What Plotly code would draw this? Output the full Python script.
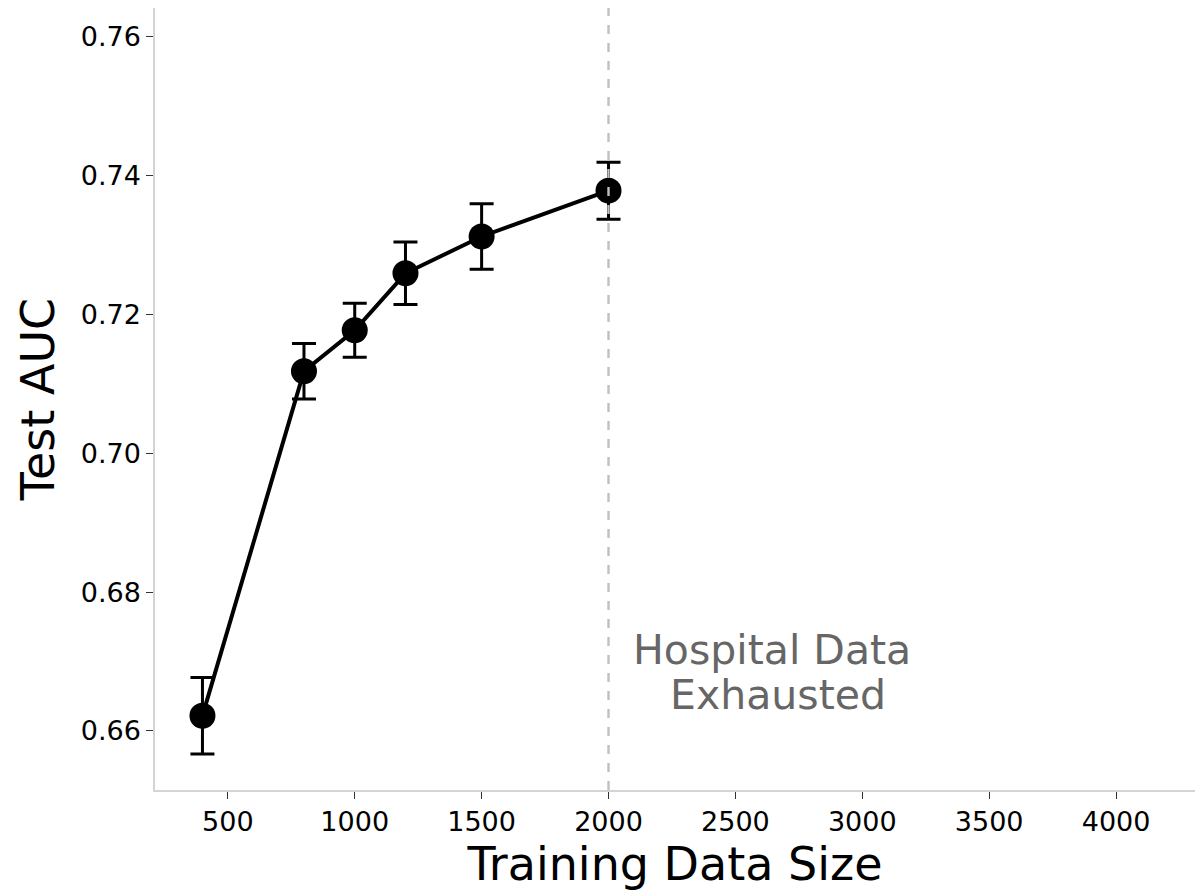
import plotly.graph_objects as go

# Learning curve: test AUC vs. amount of training data
train_sizes = [400, 800, 1000, 1200, 1500, 2000]
test_auc = [0.6622, 0.7118, 0.7177, 0.7259, 0.7312, 0.7378]
auc_err = [0.0055, 0.0040, 0.0039, 0.0045, 0.0047, 0.0041]

x_ticks = [500, 1000, 1500, 2000, 2500, 3000, 3500, 4000]
y_ticks = [0.66, 0.68, 0.70, 0.72, 0.74, 0.76]
exhausted_at = 2000

fig = go.Figure()

fig.add_trace(go.Scatter(
    x=train_sizes, y=test_auc,
    mode="lines+markers",
    line=dict(color="black", width=4),
    marker=dict(color="black", size=26),
    error_y=dict(type="data", array=auc_err, visible=True,
                 color="black", thickness=3, width=12),
    showlegend=False,
))

# Point where the hospital data runs out
fig.add_shape(type="line", xref="x", yref="paper",
              x0=exhausted_at, x1=exhausted_at, y0=0, y1=1,
              line=dict(color="#c0c0c0", width=2.4, dash="dash"))

note_font = dict(size=41, color="#666666", family="DejaVu Sans")
fig.add_annotation(x=2646, y=0.6717, xref="x", yref="y",
                   text="Hospital Data", showarrow=False, font=note_font)
fig.add_annotation(x=2669, y=0.6652, xref="x", yref="y",
                   text="Exhausted", showarrow=False, font=note_font)

axis_font = dict(family="DejaVu Sans", size=27, color="black")

fig.update_layout(
    width=1195, height=893,
    margin=dict(l=155, r=0, t=8, b=103),
    plot_bgcolor="white", paper_bgcolor="white",
    font=dict(family="DejaVu Sans", color="black"),
    xaxis=dict(
        range=[213, 4311], tickvals=x_ticks,
        ticktext=[str(v) for v in x_ticks],
        showgrid=False, zeroline=False,
        showline=True, linecolor="#d4d4d4", linewidth=1.5,
        ticks="outside", ticklen=7, tickwidth=1.3, tickcolor="#333333",
        tickfont=axis_font,
        title=dict(text="Training Data Size",
                   font=dict(family="DejaVu Sans", size=46, color="black"),
                   standoff=6),
    ),
    yaxis=dict(
        range=[0.6515, 0.7641], tickvals=y_ticks,
        ticktext=[f"{v:.2f}" for v in y_ticks],
        showgrid=False, zeroline=False,
        showline=True, linecolor="#d4d4d4", linewidth=1.5,
        ticks="outside", ticklen=7, tickwidth=1.3, tickcolor="#333333",
        tickfont=axis_font,
        title=dict(text="Test AUC",
                   font=dict(family="DejaVu Sans", size=46, color="black"),
                   standoff=12),
    ),
)

fig.write_html("out.html")
